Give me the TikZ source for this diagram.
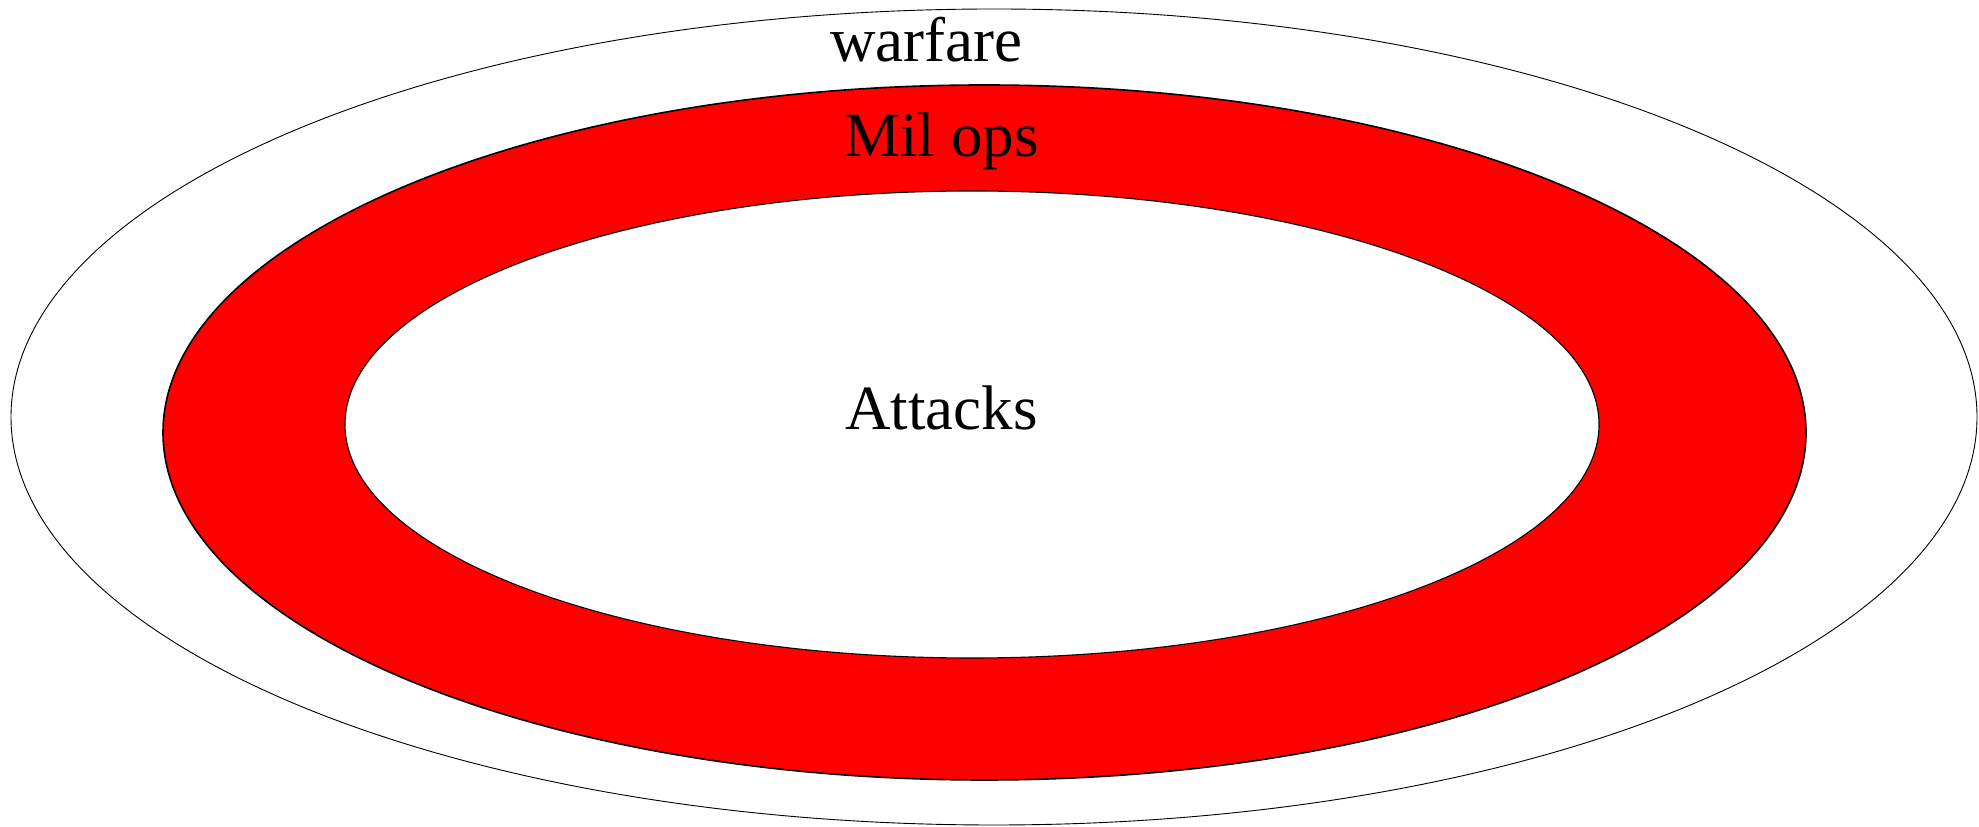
\documentclass[tikz,border=0pt]{standalone}
\usepackage{fontspec}
\setmainfont{Liberation Serif}
\usetikzlibrary{shapes.geometric}
\definecolor{ringred}{RGB}{255,0,0}
\tikzset{
  ring/.style={ellipse, inner sep=0pt, outer sep=0pt, draw=black},
  lbl/.style={anchor=base, inner sep=0pt, font=\fontsize{63}{70}\selectfont}
}
\begin{document}
\begin{tikzpicture}[x=1pt,y=1pt]
\useasboundingbox (0,0) rectangle (1979,827);
\fill[white] (0,0) rectangle (1979,827);
\node[ring, line width=0.9pt, minimum width=1966pt, minimum height=816pt] (outer) at (994,410) {};
\node[ring, fill=ringred, line width=1.6pt, minimum width=1643pt, minimum height=695pt] (milops) at (984.5,394.5) {};
\node[ring, fill=white, line width=1.1pt, minimum width=1254pt, minimum height=467pt] (attacks) at (972,402.5) {};
\node[lbl] (twarfare) at (926.5,765) {warfare};
\node[lbl] (tmilops) at (941.5,670) {Mil ops};
\node[lbl] (tattacks) at (941.5,397) {Attacks};
\end{tikzpicture}
\end{document}
